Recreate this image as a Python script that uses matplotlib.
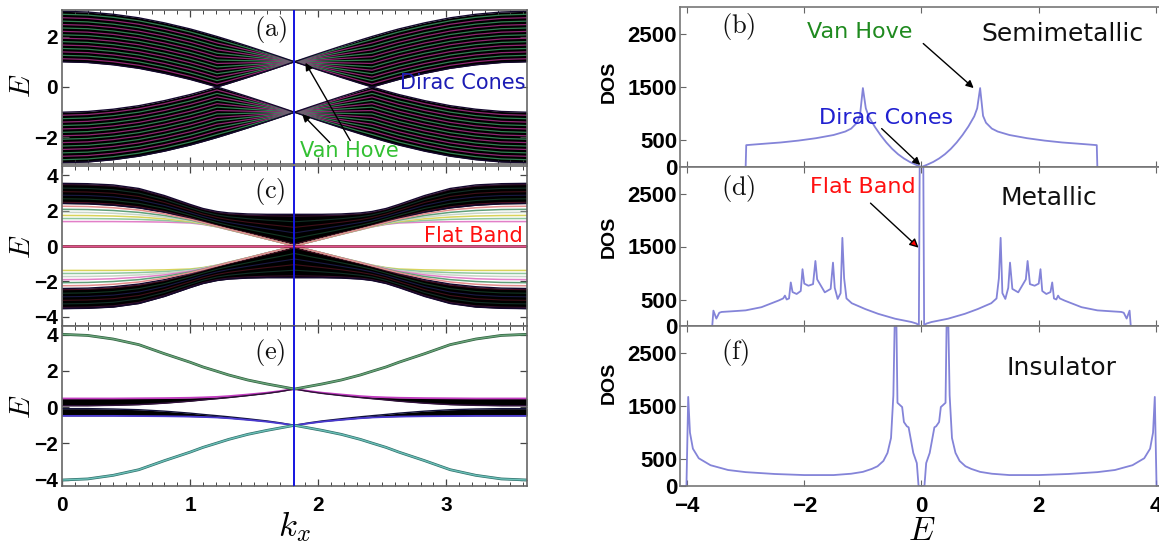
import numpy as np
import matplotlib
matplotlib.use("Agg")
import matplotlib.pyplot as plt
from matplotlib.ticker import MultipleLocator

plt.rcParams["mathtext.fontset"] = "cm"
plt.rcParams["font.family"] = ["DejaVu Sans"]

# %%
# Band structures E(k_x) (left column)
K = [0.00, 0.20, 0.40, 0.60, 0.80, 1.00, 1.10, 1.21, 1.30, 1.45, 1.60, 1.70, 1.815,
     1.93, 2.03, 2.18, 2.33, 2.42, 2.53, 2.63, 2.83, 3.03, 3.23, 3.43, 3.63]

# (a) semimetallic: upper / lower edge of the positive band group
U_a = [3.00, 2.97, 2.88, 2.74, 2.54, 2.30, 2.16, 2.00, 1.86, 1.62, 1.37, 1.20, 1.00,
       1.20, 1.37, 1.62, 1.86, 2.00, 2.16, 2.30, 2.54, 2.74, 2.88, 2.97, 3.00]
L_a = [1.00, 0.97, 0.88, 0.74, 0.54, 0.30, 0.16, 0.00, 0.14, 0.38, 0.63, 0.80, 1.00,
       0.80, 0.63, 0.38, 0.14, 0.00, 0.16, 0.30, 0.54, 0.74, 0.88, 0.97, 1.00]

# (c) metallic: dense (black) part and the outer coloured lines
U_c = [3.54, 3.52, 3.45, 3.25, 2.85, 2.35, 2.12, 1.95, 1.87, 1.81, 1.79, 1.79, 1.79,
       1.79, 1.79, 1.81, 1.87, 1.95, 2.12, 2.35, 2.85, 3.25, 3.45, 3.52, 3.54]
L_c = [2.40, 2.38, 2.30, 2.15, 1.90, 1.55, 1.35, 1.12, 0.95, 0.68, 0.40, 0.22, 0.00,
       0.22, 0.40, 0.68, 0.95, 1.12, 1.35, 1.55, 1.90, 2.15, 2.30, 2.38, 2.40]
O_c = [1.38, 1.38, 1.38, 1.37, 1.35, 1.30, 1.22, 1.08, 0.92, 0.66, 0.39, 0.21, 0.00,
       0.21, 0.39, 0.66, 0.92, 1.08, 1.22, 1.30, 1.35, 1.37, 1.38, 1.38, 1.38]

# (e) insulator: dispersive outer band and the nearly flat inner band
G_e = [4.02, 3.96, 3.76, 3.45, 2.95, 2.48, 2.22, 1.98, 1.78, 1.50, 1.28, 1.15, 1.00,
       1.15, 1.28, 1.50, 1.78, 1.98, 2.22, 2.48, 2.95, 3.45, 3.76, 3.96, 4.02]
Fhi_e = [0.48, 0.48, 0.48, 0.49, 0.50, 0.52, 0.54, 0.57, 0.61, 0.70, 0.80, 0.89, 1.00,
         0.89, 0.80, 0.70, 0.61, 0.57, 0.54, 0.52, 0.50, 0.49, 0.48, 0.48, 0.48]
Flo_e = [0.08, 0.08, 0.10, 0.14, 0.22, 0.33, 0.40, 0.47, 0.53, 0.64, 0.76, 0.86, 1.00,
         0.86, 0.76, 0.64, 0.53, 0.47, 0.40, 0.33, 0.22, 0.14, 0.10, 0.08, 0.08]

K_CUT = 1.815

# %%
# Density of states (right column)
E_b = [-4.12, -3.00, -2.99, -2.70, -2.40, -2.10, -1.80, -1.50, -1.30, -1.20, -1.10, -1.05,
       -1.00, -0.95, -0.90, -0.80, -0.70, -0.60, -0.50, -0.40, -0.30, -0.20, -0.10, 0.00,
       0.10, 0.20, 0.30, 0.40, 0.50, 0.60, 0.70, 0.80, 0.90, 0.95, 1.00, 1.05, 1.10, 1.20,
       1.30, 1.50, 1.80, 2.10, 2.40, 2.70, 2.99, 3.00, 4.12]
DOS_b = [0, 0, 410, 435, 460, 495, 540, 600, 665, 720, 830, 960,
         1480, 1100, 950, 760, 600, 460, 340, 240, 160, 95, 45, 0,
         45, 95, 160, 240, 340, 460, 600, 760, 950, 1100, 1480, 960, 830, 720,
         665, 600, 540, 495, 460, 435, 410, 0, 0]

E_d = [-4.12, -3.57, -3.55, -3.50, -3.45, -3.41, -3.20, -3.00, -2.73, -2.44, -2.36, -2.33,
       -2.30, -2.26, -2.23, -2.20, -2.13, -2.06, -2.03, -2.00, -1.93, -1.85, -1.81, -1.78,
       -1.65, -1.55, -1.51, -1.48, -1.43, -1.38, -1.35, -1.32, -1.28, -1.19, -0.96,
       -0.74, -0.45, -0.17, -0.08, -0.045, -0.03,
       0.03, 0.045, 0.08, 0.17, 0.45, 0.74,
       0.96, 1.19, 1.28, 1.32, 1.35, 1.38, 1.43, 1.48, 1.51, 1.55, 1.65,
       1.78, 1.81, 1.85, 1.93, 2.00, 2.03, 2.06, 2.13, 2.20, 2.23, 2.26, 2.30,
       2.33, 2.36, 2.44, 2.73, 3.00, 3.20, 3.41, 3.45, 3.50, 3.55, 3.57, 4.12]
DOS_d = [0, 0, 290, 140, 250, 265, 280, 295, 355, 480, 520, 573,
         500, 520, 822, 640, 604, 660, 1072, 800, 760, 790, 1227, 880,
         635, 700, 1196, 720, 511, 620, 1663, 900, 520, 430, 320,
         230, 137, 75, 44, 0, 3200,
         3200, 0, 44, 75, 137, 230,
         320, 430, 520, 900, 1663, 620, 511, 720, 1196, 700, 635,
         880, 1227, 790, 760, 800, 1072, 660, 604, 640, 822, 520, 500,
         573, 520, 480, 355, 295, 280, 265, 250, 140, 290, 0, 0]

E_f = [-4.12, -4.01, -3.98, -3.95, -3.90, -3.80, -3.60, -3.30, -3.00, -2.50, -2.00, -1.50,
       -1.20, -1.00, -0.85, -0.75, -0.65, -0.58, -0.52, -0.48, -0.455, -0.43, -0.41, -0.36,
       -0.33, -0.30, -0.25, -0.22, -0.14, -0.08, -0.05,
       0.05, 0.08, 0.14, 0.22, 0.25, 0.30, 0.33, 0.36, 0.41, 0.43, 0.455, 0.48, 0.52,
       0.58, 0.65, 0.75, 0.85, 1.00, 1.20, 1.50, 2.00, 2.50, 3.00, 3.30, 3.60, 3.80,
       3.90, 3.95, 3.98, 4.01, 4.12]
DOS_f = [0, 0, 1670, 1000, 700, 520, 390, 300, 260, 225, 205, 205,
         230, 265, 320, 370, 470, 620, 900, 1700, 3200, 3200, 1560, 1510,
         1480, 1200, 1120, 1100, 620, 430, 0,
         0, 430, 620, 1100, 1120, 1200, 1480, 1510, 1560, 3200, 3200, 1700, 900,
         620, 470, 370, 320, 265, 230, 205, 205, 225, 260, 300, 390, 520,
         700, 1000, 1670, 0, 0]

# %%
W, H = 1159, 546
fig = plt.figure(figsize=(W / 100, H / 100), dpi=100)


def box(x0, y0, x1, y1):
    return [x0 / W, 1 - y1 / H, (x1 - x0) / W, (y1 - y0) / H]


ax_a = fig.add_axes(box(62, 10, 527, 164))
ax_c = fig.add_axes(box(62, 166, 527, 326))
ax_e = fig.add_axes(box(62, 326, 527, 486))
ax_b = fig.add_axes(box(680, 7, 1163, 167))
ax_d = fig.add_axes(box(680, 167, 1163, 326))
ax_f = fig.add_axes(box(680, 326, 1163, 486))

k = np.asarray(K)
TICKFONT = dict(fontfamily="Liberation Sans", fontweight="bold", fontsize=15)
TICKFONT_R = dict(TICKFONT, fontsize=16)


def dense_band(ax, lo, hi, colors, sign=1, lw=1.0, alpha=0.9):
    lo = sign * np.asarray(lo)
    hi = sign * np.asarray(hi)
    ax.fill_between(k, lo, hi, color="black", lw=0)
    fr = np.linspace(0.06, 0.94, len(colors))
    for f, c in zip(fr, colors):
        ax.plot(k, lo + f * (hi - lo), color=c, lw=lw, alpha=alpha)
    ax.plot(k, lo, color="#14082e", lw=1.0)
    ax.plot(k, hi, color="#14082e", lw=1.0)


# (a)
stripes_a = ["#a82c86", "#3a9660"] * 7
dense_band(ax_a, L_a, U_a, stripes_a, 1, lw=0.9, alpha=0.85)
dense_band(ax_a, L_a, U_a, stripes_a, -1, lw=0.9, alpha=0.85)

# (c)
inner_c = ["#7a1a3a", "#1f5a3a", "#2a2a70", "#6a1a2a", "#1f4f3f", "#5a1a4a"]
dense_band(ax_c, L_c, U_c, inner_c, 1, lw=0.8, alpha=0.6)
dense_band(ax_c, L_c, U_c, inner_c, -1, lw=0.8, alpha=0.6)
outer_up = ["#e27fc8", "#8fc79d", "#d9d35a", "#c9d6c9", "#5f9f78", "#e38d8d"]
outer_dn = ["#d9d35a", "#8fc79d", "#c9d6c9", "#e27fc8", "#5f9f78", "#e38d8d"]
Oc, Lc = np.asarray(O_c), np.asarray(L_c)
for i, f in enumerate(np.linspace(0.0, 0.85, 6)):
    ax_c.plot(k, Oc + f * (Lc - Oc), color=outer_up[i], lw=1.1)
    ax_c.plot(k, -(Oc + f * (Lc - Oc)), color=outer_dn[i], lw=1.1)
ax_c.axhline(0, color="#8a1030", lw=1.8)
ax_c.axhline(0, color="#e05090", lw=0.8)

# (e)
Fh, Fl = np.asarray(Fhi_e), np.asarray(Flo_e)
ax_e.fill_between(k, Fl, Fh, color="black", lw=0)
ax_e.fill_between(k, -Fh, -Fl, color="black", lw=0)
ax_e.plot(k, Fh, color="#c23cc0", lw=1.3)
ax_e.plot(k, Fl, color="#30103a", lw=1.0)
ax_e.plot(k, -Fl, color="#10103a", lw=1.0)
ax_e.plot(k, -Fh, color="#4a3ad0", lw=1.3)
ax_e.plot(k, G_e, color="#2f5f3f", lw=2.0)
ax_e.plot(k, G_e, color="#6aa57a", lw=1.0)
ax_e.plot(k, -np.asarray(G_e), color="#2f6f6a", lw=2.0)
ax_e.plot(k, -np.asarray(G_e), color="#6cc0b8", lw=1.0)

ylims_left = {ax_a: (-3.05, 3.05), ax_c: (-4.52, 4.52), ax_e: (-4.35, 4.48)}
yticks_left = {ax_a: [-2, 0, 2], ax_c: [-4, -2, 0, 2, 4], ax_e: [-4, -2, 0, 2, 4]}
for ax in (ax_a, ax_c, ax_e):
    ax.axvline(K_CUT, color="#1414e0", lw=1.4, zorder=5)
    ax.set_xlim(0, 3.63)
    ax.set_ylim(*ylims_left[ax])
    ax.set_xticks([0, 1, 2, 3], ["0", "1", "2", "3"], **TICKFONT)
    yt = yticks_left[ax]
    ax.set_yticks(yt, [str(v).replace("-", "\u2212") for v in yt], **TICKFONT)
    ax.xaxis.set_minor_locator(MultipleLocator(0.1))
    ax.tick_params(which="both", direction="in", top=True, right=True, color="#444")
    ax.tick_params(which="major", length=5, width=0.9, pad=3)
    ax.tick_params(which="minor", length=3, width=0.7)
    ax.tick_params(axis="x", pad=7)
    for s in ax.spines.values():
        s.set_color("#666")
        s.set_linewidth(1.2)
ax_a.tick_params(labelbottom=False)
ax_c.tick_params(labelbottom=False)

# DOS panels
for ax, e, d in ((ax_b, E_b, DOS_b), (ax_d, E_d, DOS_d), (ax_f, E_f, DOS_f)):
    ax.plot(e, d, color="#6e6ed2", lw=1.3, alpha=0.85)
    ax.set_xlim(-4.12, 4.12)
    ax.set_ylim(0, 3000)
    ax.set_xticks([-4, -2, 0, 2, 4], ["\u22124", "\u22122", "0", "2", "4"], **TICKFONT_R)
    ax.set_yticks([0, 500, 1500, 2500], ["0", "500", "1500", "2500"], **TICKFONT_R)
    ax.tick_params(direction="in", top=True, length=4, width=0.8, color="#666", pad=2)
    ax.tick_params(axis="x", pad=7)
    for s in ax.spines.values():
        s.set_color("#777")
        s.set_linewidth(1.2)
ax_b.tick_params(labelbottom=False)
ax_d.tick_params(labelbottom=False)

# %%
# panel labels and annotations
PL = dict(fontsize=19, ha="center", va="center", color="#111")
ax_a.text(1.625, 2.28, r"$\mathrm{(a)}$", **PL)
ax_c.text(1.625, 3.10, r"$\mathrm{(c)}$", **PL)
ax_e.text(1.625, 3.00, r"$\mathrm{(e)}$", **PL)
ax_b.text(-3.13, 2630, r"$\mathrm{(b)}$", **PL)
ax_d.text(-3.13, 2600, r"$\mathrm{(d)}$", **PL)
ax_f.text(-3.18, 2500, r"$\mathrm{(f)}$", **PL)

ARW = dict(arrowstyle="-|>", color="black", lw=1.0, mutation_scale=11, shrinkA=0, shrinkB=0)
ax_a.text(3.62, 0.15, "Dirac Cones", color="#1c1cb4", fontsize=15, ha="right", va="center", zorder=6)
ax_a.text(1.86, -2.55, "Van Hove", color="#33c033", fontsize=15, ha="left", va="center", zorder=6)
ax_a.annotate("", xy=(1.90, 0.96), xytext=(2.25, -2.12), arrowprops=ARW, zorder=6)
ax_a.annotate("", xy=(1.875, -1.08), xytext=(2.09, -2.2), arrowprops=ARW, zorder=6)
ax_c.text(3.60, 0.56, "Flat Band", color="#ff1010", fontsize=15, ha="right", va="center", zorder=6)

ax_b.text(-1.05, 2540, "Van Hove", color="#1f8a1f", fontsize=16, ha="center", va="center")
ax_b.text(2.41, 2500, "Semimetallic", color="#111", fontsize=18, ha="center", va="center")
ax_b.text(-0.60, 926, "Dirac Cones", color="#2020d0", fontsize=16, ha="center", va="center")
ax_b.annotate("", xy=(0.89, 1480), xytext=(0.03, 2315), arrowprops=ARW)
ax_b.annotate("", xy=(-0.02, 37), xytext=(-0.68, 720), arrowprops=ARW)

ax_d.text(-1.00, 2617, "Flat Band", color="#ff1010", fontsize=16, ha="center", va="center")
ax_d.text(2.17, 2411, "Metallic", color="#111", fontsize=18, ha="center", va="center")
ax_d.annotate("", xy=(-0.05, 1477), xytext=(-0.87, 2318),
              arrowprops=dict(arrowstyle="-|>", fc="red", ec="black", lw=1.0,
                              mutation_scale=13, shrinkA=0, shrinkB=0))

ax_f.text(2.38, 2220, "Insulator", color="#111", fontsize=18, ha="center", va="center")

# axis labels
fig.text(22 / W, 1 - 86 / H, r"$E$", fontsize=21, rotation=90, ha="center", va="center")
fig.text(22 / W, 1 - 247 / H, r"$E$", fontsize=21, rotation=90, ha="center", va="center")
fig.text(22 / W, 1 - 407 / H, r"$E$", fontsize=21, rotation=90, ha="center", va="center")
fig.text(294 / W, 1 - 527 / H, r"$k_x$", fontsize=25, ha="center", va="center")
fig.text(922 / W, 1 - 531 / H, r"$E$", fontsize=24, ha="center", va="center")
DOSF = dict(fontfamily="Liberation Sans", fontweight="bold", fontsize=14,
            rotation=90, ha="center", va="center")
fig.text(609 / W, 1 - 82 / H, "DOS", **DOSF)
fig.text(609 / W, 1 - 237 / H, "DOS", **DOSF)
fig.text(609 / W, 1 - 383 / H, "DOS", **DOSF)

fig.savefig("out.png", dpi=100)
